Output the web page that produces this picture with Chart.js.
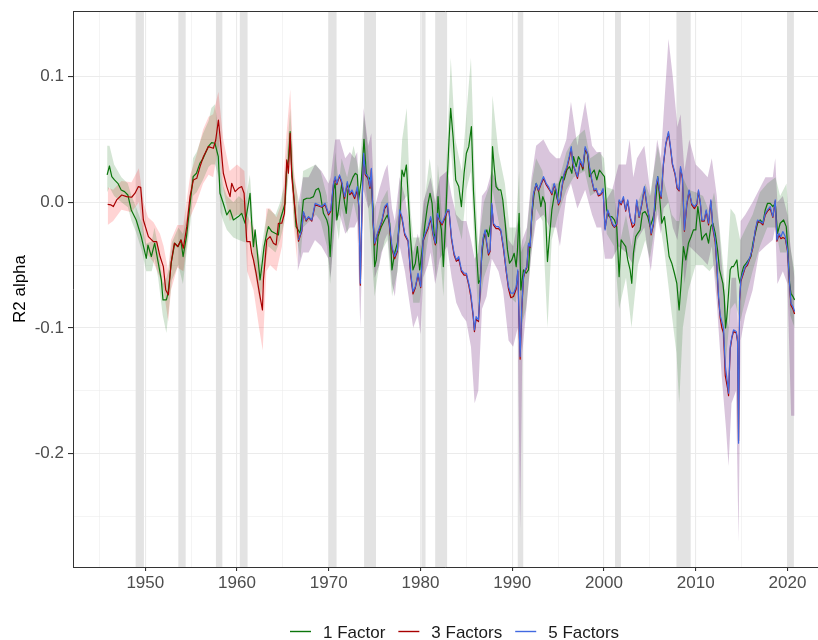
<!DOCTYPE html>
<html>
<head>
<meta charset="utf-8">
<script src="https://cdn.jsdelivr.net/npm/chart.js@4.4.0/dist/chart.umd.min.js"></script>
<style>
  html, body { margin: 0; padding: 0; background: #fff; }
  #wrap { width: 818px; height: 640px; position: relative; }
</style>
</head>
<body>
<div id="wrap"><canvas id="chart" width="818" height="640"></canvas></div>
<script>
// Legend / series names
const seriesNames = ['1 Factor', '3 Factors', '5 Factors'];
const lineColors = ['#0b760b', '#a80000', '#4169e1'];

// Tick positions
const xTicks = [1945, 1950, 1955, 1960, 1965, 1970, 1975, 1980, 1985, 1990, 1995, 2000, 2005, 2010, 2015, 2020];
const yTicks = [-0.25, -0.2, -0.15, -0.1, -0.05, 0, 0.05, 0.1];

// NBER recessions (shaded)
const recStart = [1948.95, 1953.6, 1957.7, 1960.3, 1970.0, 1973.85, 1980.1, 1981.6, 1990.6, 2001.2, 2007.9, 2019.95];
const recEnd   = [1949.85, 1954.4, 1958.4, 1961.15, 1970.85, 1975.15, 1980.55, 1982.9, 1991.2, 2001.85, 2009.45, 2020.7];

// 1 Factor
const f1Yr = [1945.84,1946.09,1946.35,1946.64,1947.01,1947.37,1947.74,1948.10,1948.47,1949.01,1949.56,1950.11,1950.29,1950.66,1951.02,1951.39,1951.75,1951.93,1952.30,1952.48,1952.85,1953.21,1953.58,1953.87,1954.12,1954.49,1954.85,1955.22,1955.58,1955.95,1956.31,1956.86,1957.23,1957.59,1957.96,1958.14,1958.50,1958.88,1959.24,1959.60,1960.15,1960.51,1960.88,1961.24,1961.42,1961.60,1961.79,1961.97,1962.22,1962.51,1962.70,1962.95,1963.24,1963.42,1963.79,1964.15,1964.51,1964.70,1965.24,1965.42,1965.60,1965.79,1965.97,1966.22,1966.44,1966.88,1967.24,1967.60,1967.97,1968.33,1968.59,1968.88,1969.06,1969.42,1969.79,1969.97,1970.15,1970.33,1970.51,1970.70,1970.88,1971.06,1971.42,1971.73,1971.91,1972.09,1972.38,1972.64,1972.89,1973.11,1973.26,1973.55,1973.84,1974.09,1974.35,1974.57,1974.82,1975.00,1975.18,1975.37,1975.73,1976.09,1976.38,1976.64,1976.89,1977.18,1977.48,1977.73,1977.98,1978.20,1978.46,1978.64,1978.93,1979.18,1979.44,1979.66,1979.91,1980.17,1980.46,1980.75,1981.04,1981.26,1981.48,1981.73,1981.91,1982.09,1982.28,1982.49,1982.71,1982.93,1983.11,1983.29,1983.55,1983.84,1984.17,1984.46,1984.75,1985.00,1985.26,1985.55,1985.77,1985.96,1986.14,1986.32,1986.50,1986.68,1986.86,1987.05,1987.23,1987.41,1987.66,1987.85,1988.03,1988.24,1988.50,1988.75,1988.97,1989.23,1989.48,1989.70,1989.95,1990.21,1990.43,1990.57,1990.75,1990.94,1991.23,1991.52,1991.77,1991.95,1992.13,1992.39,1992.61,1992.86,1993.12,1993.33,1993.59,1993.84,1994.06,1994.32,1994.50,1994.68,1994.93,1995.15,1995.41,1995.66,1995.95,1996.24,1996.50,1996.68,1996.97,1997.22,1997.41,1997.70,1997.95,1998.21,1998.42,1998.68,1998.93,1999.22,1999.51,1999.77,2000.05,2000.30,2000.56,2000.85,2001.14,2001.39,2001.65,2001.87,2002.12,2002.37,2002.59,2002.85,2003.03,2003.21,2003.46,2003.68,2003.94,2004.19,2004.48,2004.77,2005.03,2005.28,2005.57,2005.86,2006.12,2006.30,2006.59,2006.85,2007.10,2007.39,2007.68,2007.94,2008.19,2008.41,2008.66,2008.92,2009.21,2009.50,2009.75,2010.01,2010.23,2010.48,2010.67,2010.85,2011.14,2011.40,2011.65,2011.87,2012.13,2012.38,2012.60,2012.78,2012.96,2013.11,2013.25,2013.40,2013.58,2013.76,2013.94,2014.12,2014.31,2014.49,2014.67,2014.85,2015.03,2015.22,2015.51,2015.76,2016.02,2016.23,2016.49,2016.74,2017.03,2017.32,2017.58,2017.83,2018.12,2018.41,2018.67,2018.92,2019.21,2019.58,2019.87,2020.05,2020.23,2020.38,2020.60,2020.78];
const f1Val = [0.0218,0.0289,0.0204,0.0178,0.0151,0.0098,0.0085,0.0058,-0.0061,-0.0141,-0.0273,-0.0446,-0.034,-0.0432,-0.0326,-0.0472,-0.0618,-0.0777,-0.0777,-0.0724,-0.0472,-0.0326,-0.0353,-0.03,-0.0432,-0.0273,-0.0034,0.0204,0.0231,0.031,0.035,0.0443,0.0475,0.047,0.0363,0.0072,-0.0008,-0.01,-0.0061,-0.0141,-0.0114,-0.0088,-0.0167,-0.0008,0.0072,-0.0167,-0.0353,-0.022,-0.0406,-0.0618,-0.0512,-0.0353,-0.0247,-0.0194,-0.0233,-0.0247,-0.026,-0.0141,-0.0008,0.0284,0.0337,0.0562,0.0257,0.0019,-0.0194,-0.0247,0.0019,0.0032,0.0032,0.0045,0.0098,0.0111,0.0072,-0.0088,-0.0141,-0.0194,-0.0432,-0.0194,0.0098,0.0151,-0.0141,-0.0061,0.0151,-0.0008,-0.0088,0.0098,0.015,0.02,0.0231,0.0218,0.0019,0.0178,0.0501,0.0231,0.0178,0.0204,-0.0034,-0.0512,-0.0459,-0.0273,-0.0194,-0.0141,-0.0101,-0.0167,-0.0538,-0.0406,-0.0326,-0.0167,0.0257,0.0204,0.0297,0.0072,-0.03,-0.0538,-0.0485,-0.0353,-0.0538,-0.0379,-0.0194,-0.0034,0.0072,-0.0008,-0.0247,-0.0326,0.0045,-0.0141,-0.022,-0.0512,-0.0194,0.0204,0.0496,0.0748,0.0523,0.0178,0.0125,-0.0034,0.0231,0.039,0.0443,0.0602,0.0098,-0.0167,-0.0432,-0.0645,-0.0618,-0.0432,-0.03,-0.0247,-0.022,-0.0273,-0.0167,0.0443,0.0284,0.0125,0.0098,0.0098,0.0019,-0.0167,-0.0379,-0.0485,-0.0459,-0.0406,-0.0512,-0.0379,-0.0088,-0.0698,-0.0538,-0.0565,-0.0538,-0.0326,-0.0114,0.0072,0.0151,0.0098,-0.0034,0.0045,-0.0008,-0.0472,-0.0273,-0.0061,0.0019,0.0098,0.0019,0.0151,0.0204,0.0178,0.0257,0.0284,0.0231,0.0363,0.0284,0.0363,0.0337,0.0257,0.0416,0.039,0.0204,0.0231,0.0257,0.0178,0.0257,0.0231,0.0204,-0.0061,-0.0114,-0.0114,-0.0141,-0.0194,-0.0592,-0.03,-0.0326,-0.0353,-0.0459,-0.0538,-0.0645,-0.0406,-0.0273,-0.0247,-0.022,-0.0088,-0.0074,-0.0114,-0.0194,-0.0141,-0.0061,0.0204,-0.0008,-0.0167,-0.0114,-0.0273,-0.0432,-0.0485,-0.0565,-0.0645,-0.0857,-0.0645,-0.0353,-0.0459,-0.0326,-0.0273,-0.022,-0.022,-0.0034,-0.0167,-0.03,-0.0273,-0.0247,-0.0326,-0.0194,-0.0167,-0.0247,-0.0379,-0.0538,-0.0592,-0.0645,-0.0751,-0.1,-0.091,-0.0724,-0.0538,-0.0512,-0.0512,-0.0485,-0.0459,-0.0592,-0.0645,-0.0565,-0.0512,-0.0485,-0.0459,-0.0432,-0.0326,-0.0247,-0.0167,-0.0141,-0.0167,-0.0061,-0.0008,-0.0008,-0.0034,-0.0008,-0.0247,-0.0167,-0.0141,-0.0194,-0.0379,-0.0645,-0.0724,-0.0751,-0.0777];

// 3 Factors
const f3Yr = [1945.90,1946.26,1946.52,1946.88,1947.43,1947.97,1948.52,1948.88,1949.25,1949.50,1949.79,1950.34,1950.88,1951.24,1951.61,1951.97,1952.23,1952.52,1952.81,1953.17,1953.53,1953.90,1954.15,1954.52,1954.88,1955.24,1955.61,1955.97,1956.33,1956.88,1957.42,1957.68,1957.97,1958.15,1958.51,1958.88,1959.24,1959.42,1959.79,1960.15,1960.51,1960.77,1961.06,1961.42,1961.60,1961.79,1962.08,1962.44,1962.77,1962.88,1963.24,1963.60,1963.97,1964.26,1964.51,1964.88,1965.17,1965.42,1965.60,1965.79,1965.97,1966.22,1966.44,1966.59,
  1966.70,1967.06,1967.24,1967.53,1967.79,1968.15,1968.51,1968.88,1969.24,1969.60,1969.97,1970.22,1970.51,1970.70,1970.88,1971.17,1971.42,1971.73,1972.02,1972.28,1972.53,1972.82,1973.11,1973.29,1973.44,1973.62,1973.80,1973.98,1974.28,1974.49,1974.64,1974.82,1975.00,1975.29,1975.55,1975.80,1976.09,1976.38,1976.64,1976.89,1977.18,1977.48,1977.73,1977.98,1978.28,1978.64,1978.93,1979.18,1979.44,1979.73,1980.02,1980.28,1980.53,1980.82,1981.11,1981.37,1981.62,1981.84,1982.09,1982.35,1982.64,1982.93,1983.11,1983.37,1983.66,1983.91,1984.17,1984.46,1984.75,1985.00,1985.26,1985.48,1985.73,1985.88,1986.06,1986.32,1986.50,1986.68,1986.86,1987.05,1987.23,1987.41,1987.59,1987.77,1987.95,1988.24,1988.50,1988.75,1989.04,1989.34,1989.59,1989.85,1990.14,1990.43,1990.61,1990.79,1990.86,1991.04,1991.23,1991.41,1991.59,1991.77,1991.95,1992.13,1992.32,1992.61,1992.86,1993.12,1993.41,1993.70,1993.95,1994.13,1994.32,1994.57,1994.79,1995.04,1995.22,1995.41,1995.66,1995.95,1996.21,1996.43,1996.61,1996.86,1997.11,1997.41,1997.70,1997.95,1998.21,1998.42,1998.68,1998.93,1999.15,1999.40,1999.66,1999.90,2000.12,2000.41,2000.67,2000.92,2001.14,2001.39,2001.65,2001.87,2002.12,2002.37,2002.59,2002.85,2003.10,2003.32,2003.57,2003.83,2004.12,2004.41,2004.66,2004.92,2005.14,2005.39,2005.65,2005.86,2006.05,2006.23,2006.48,2006.74,2007.03,2007.25,2007.46,2007.75,2007.97,2008.19,2008.34,2008.55,2008.77,2009.03,2009.28,2009.57,2009.86,2010.12,2010.30,2010.52,2010.67,2010.93,2011.14,2011.40,2011.65,2011.87,2012.13,2012.31,2012.49,2012.67,2012.85,2013.03,2013.22,2013.47,2013.58,2013.76,2013.94,2014.12,2014.42,2014.56,2014.67,2014.78,2014.92,2015.14,2015.40,2015.65,2015.94,2016.23,2016.49,2016.74,2017.03,2017.32,2017.58,2017.83,2018.12,2018.41,2018.67,2018.85,2019.07,2019.29,2019.50,2019.76,2020.01,2020.23,2020.38,2020.60,2020.78];
const f3Val = [-0.0016,-0.0021,-0.0034,0.0019,0.0058,0.0045,0.004,0.0072,0.0125,0.0119,-0.0141,-0.0273,-0.0313,-0.0313,-0.0432,-0.0512,-0.0698,-0.0737,-0.0485,-0.0326,-0.0353,-0.03,-0.0366,-0.0194,0.0045,0.0178,0.0191,0.0284,0.0363,0.0443,0.043,0.0496,0.0655,0.0523,0.0231,0.0125,0.0045,0.0151,0.0085,0.0111,0.0125,0.0072,-0.0313,-0.0313,-0.0406,-0.0459,-0.0565,-0.0724,-0.0857,-0.0618,-0.03,-0.0273,-0.0326,-0.034,-0.0167,-0.0167,-0.0088,0.0337,0.0231,0.0549,0.0204,0.0019,-0.0141,-0.022,
  -0.031,-0.023,-0.008,-0.015,-0.012,-0.015,-0.002,-0.003,-0.004,-0.002,-0.01,-0.007,0.014,0.019,0.014,0.021,0.015,0.003,0.015,0.006,0.008,0.003,0.01,-0.005,-0.066,-0.005,0.038,0.022,0.019,0.011,0.026,-0.015,-0.034,-0.026,-0.021,-0.015,-0.005,-0.002,-0.021,-0.037,-0.045,-0.039,-0.008,-0.013,-0.026,-0.031,-0.058,-0.073,-0.068,-0.058,-0.068,-0.031,-0.026,-0.021,-0.013,-0.026,-0.034,-0.01,-0.015,-0.018,-0.013,-0.007,-0.007,-0.029,-0.042,-0.047,-0.045,-0.055,-0.058,-0.058,-0.066,-0.075,-0.09,-0.103,-0.093,-0.095,-0.071,-0.039,-0.028,-0.023,-0.034,-0.042,-0.039,-0.002,-0.018,-0.021,-0.021,-0.023,-0.037,-0.055,-0.069,-0.076,-0.075,-0.069,-0.055,-0.108,-0.125,-0.085,-0.06,-0.055,-0.052,-0.034,-0.036,-0.01,0.006,0.014,0.009,0.014,0.019,0.014,0.011,0.009,0.006,0.014,0.009,-0.002,0.001,0.011,0.022,0.027,0.035,0.043,0.03,0.025,0.019,0.032,0.027,0.043,0.038,0.027,0.017,0.009,0.01,0.005,0.006,0.01,-0.021,-0.007,-0.012,-0.018,-0.02,-0.018,0.001,-0.002,0.003,-0.007,0.001,-0.012,-0.02,-0.018,0.001,-0.012,-0.002,0.011,-0.002,-0.012,-0.026,-0.018,0.011,0.019,0.009,0.003,0.03,0.046,0.055,0.043,0.03,0.022,0.011,0.009,0.027,0.019,-0.023,-0.002,0.009,-0.002,-0.005,-0.002,0.009,-0.002,-0.015,-0.015,-0.007,-0.018,0.001,-0.021,-0.032,-0.052,-0.077,-0.092,-0.1,-0.104,-0.138,-0.148,-0.154,-0.117,-0.108,-0.103,-0.104,-0.111,-0.19,-0.079,-0.063,-0.058,-0.052,-0.05,-0.044,-0.036,-0.023,-0.015,-0.016,-0.018,-0.01,-0.007,-0.005,-0.012,0.001,-0.031,-0.026,-0.029,-0.028,-0.029,-0.039,-0.066,-0.082,-0.085,-0.089];

// 5 Factors
const f5Yr = [1966.70,1967.06,1967.24,1967.53,1967.79,1968.15,1968.51,1968.88,1969.24,1969.60,1969.97,1970.22,1970.51,1970.70,1970.88,1971.17,1971.42,1971.73,1972.02,1972.28,1972.53,1972.82,1973.11,1973.29,1973.44,1973.62,1973.80,1973.98,1974.28,1974.49,1974.64,1974.82,1975.00,1975.29,1975.55,1975.80,1976.09,1976.38,1976.64,1976.89,1977.18,1977.48,1977.73,1977.98,1978.28,1978.64,1978.93,1979.18,1979.44,1979.73,1980.02,1980.28,1980.53,1980.82,1981.11,1981.37,1981.62,1981.84,1982.09,1982.35,1982.64,1982.93,1983.11,1983.37,1983.66,1983.91,1984.17,1984.46,1984.75,1985.00,1985.26,1985.48,1985.73,1985.88,1986.06,1986.32,1986.50,1986.68,1986.86,1987.05,1987.23,1987.41,1987.59,1987.77,1987.95,1988.24,1988.50,1988.75,1989.04,1989.34,1989.59,1989.85,1990.14,1990.43,1990.61,1990.79,1990.86,1991.04,1991.23,1991.41,1991.59,1991.77,1991.95,1992.13,1992.32,1992.61,1992.86,1993.12,1993.41,1993.70,1993.95,1994.13,1994.32,1994.57,1994.79,1995.04,1995.22,1995.41,1995.66,1995.95,1996.21,1996.43,1996.61,1996.86,1997.11,1997.41,1997.70,1997.95,1998.21,1998.42,1998.68,1998.93,1999.15,1999.40,1999.66,1999.90,2000.12,2000.41,2000.67,2000.92,2001.14,2001.39,2001.65,2001.87,2002.12,2002.37,2002.59,2002.85,2003.10,2003.32,2003.57,2003.83,2004.12,2004.41,2004.66,2004.92,2005.14,2005.39,2005.65,2005.86,2006.05,2006.23,2006.48,2006.74,2007.03,2007.25,2007.46,2007.75,2007.97,2008.19,2008.34,2008.55,2008.77,2009.03,2009.28,2009.57,2009.86,2010.12,2010.30,2010.52,2010.67,2010.93,2011.14,2011.40,2011.65,2011.87,2012.13,2012.31,2012.49,2012.67,2012.85,2013.03,2013.22,2013.47,2013.58,2013.76,2013.94,2014.12,2014.42,2014.56,2014.67,2014.78,2014.92,2015.14,2015.40,2015.65,2015.94,2016.23,2016.49,2016.74,2017.03,2017.32,2017.58,2017.83,2018.12,2018.41,2018.67,2018.85,2019.07,2019.29,2019.50,2019.76,2020.01,2020.23,2020.38,2020.60,2020.78];
const f5Val = [-0.03,-0.022,-0.0074,-0.0141,-0.0114,-0.0141,-0.0008,-0.0021,-0.0034,-0.0008,-0.0088,-0.0061,0.0151,0.0204,0.0151,0.0218,0.0164,0.0045,0.0164,0.0072,0.0098,0.0045,0.0125,-0.0034,-0.0645,-0.0034,0.039,0.0231,0.0204,0.0125,0.0271,-0.0141,-0.0326,-0.0247,-0.0194,-0.0141,-0.0034,-0.0008,-0.0194,-0.0353,-0.0432,-0.0379,-0.0061,-0.0114,-0.0247,-0.03,-0.0565,-0.0711,-0.0671,-0.0565,-0.0671,-0.03,-0.0247,-0.0194,-0.0114,-0.0247,-0.0326,-0.0088,-0.0141,-0.0167,-0.0114,-0.0061,-0.0061,-0.0273,-0.0406,-0.0459,-0.0432,-0.0538,-0.0565,-0.0565,-0.0645,-0.0724,-0.0883,-0.1016,-0.091,-0.0936,-0.0698,-0.0379,-0.0273,-0.022,-0.0326,-0.0406,-0.0379,-0.0008,-0.0167,-0.0194,-0.0194,-0.022,-0.0353,-0.0538,-0.0671,-0.0724,-0.0724,-0.0671,-0.0538,-0.1069,-0.1228,-0.083,-0.0592,-0.0538,-0.0512,-0.0326,-0.0353,-0.0088,0.0072,0.0151,0.0098,0.0151,0.0204,0.0151,0.0125,0.0098,0.0072,0.0151,0.0098,-0.0008,0.0019,0.0125,0.0231,0.0284,0.0363,0.0443,0.031,0.0257,0.0204,0.0337,0.0284,0.0443,0.039,0.0284,0.0178,0.0098,0.011,0.006,0.007,0.011,-0.022,-0.0061,-0.0114,-0.0167,-0.0194,-0.0167,0.0019,-0.0008,0.0045,-0.0061,0.0019,-0.0114,-0.0167,-0.0167,0.0019,-0.0114,-0.0008,0.0125,-0.0008,-0.0114,-0.0247,-0.0167,0.0125,0.0204,0.0098,0.0045,0.031,0.0469,0.0562,0.0443,0.031,0.0231,0.0125,0.0098,0.0284,0.0204,-0.022,-0.0008,0.0098,-0.0008,-0.0034,-0.0008,0.0098,-0.0008,-0.0141,-0.0141,-0.0061,-0.0167,0.0019,-0.0194,-0.03,-0.05,-0.075,-0.09,-0.095,-0.1,-0.13,-0.144,-0.152,-0.1149,-0.1069,-0.1016,-0.1029,-0.1095,-0.1918,-0.0777,-0.0618,-0.0565,-0.0512,-0.0485,-0.0432,-0.0353,-0.022,-0.0141,-0.0154,-0.0167,-0.0088,-0.0061,-0.0034,-0.0114,0.0019,-0.03,-0.0247,-0.0273,-0.0233,-0.0273,-0.0379,-0.0645,-0.0804,-0.083,-0.087];

// Confidence bands
const f1BandYr = [1945.84,1946.1,1946.6,1947.4,1948.1,1948.5,1949.0,1949.6,1950.1,1950.7,1951.0,1951.4,1951.9,1952.3,1952.5,1952.9,1953.6,1954.1,1954.5,1954.9,1955.2,1955.6,1956.3,1956.9,1957.2,1957.6,1958.0,1958.2,1958.5,1958.9,1959.6,1960.2,1960.9,1961.4,1961.8,1962.5,1963.0,1963.4,1964.2,1964.7,1965.2,1965.8,1966.2,1966.9,1967.2,1968.6,1969.1,1969.8,1970.15,1970.7,1971.1,1971.4,1972.0,1972.7,1973.3,1973.84,1974.3,1975.0,1975.7,1976.4,1976.9,1977.5,1978.0,1978.5,1978.9,1979.2,1979.9,1980.5,1981.0,1981.7,1981.9,1982.5,1982.9,1983.3,1983.8,1984.5,1985.0,1985.5,1985.9,1986.3,1986.9,1987.6,1987.85,1988.5,1989.2,1989.7,1990.4,1990.75,1990.95,1991.5,1992.1,1992.6,1993.3,1993.85,1994.3,1995.0,1995.9,1996.7,1997.9,1998.5,1999.5,2000.0,2000.3,2001.1,2001.65,2002.4,2003.0,2003.7,2004.5,2005.0,2005.86,2006.6,2007.4,2007.9,2008.2,2008.6,2009.2,2010.0,2010.8,2011.5,2012.0,2012.6,2013.25,2013.8,2014.3,2014.85,2015.5,2016.2,2017.0,2017.8,2018.7,2019.2,2019.9,2020.3,2020.78];
const f1Lo = [0.008,0.012,0.005,0.0,-0.004,-0.015,-0.024,-0.038,-0.055,-0.055,-0.045,-0.06,-0.09,-0.104,-0.09,-0.062,-0.05,-0.065,-0.04,-0.018,0.005,0.008,0.018,0.028,0.03,0.03,0.02,-0.008,-0.015,-0.022,-0.028,-0.03,-0.032,-0.01,-0.05,-0.08,-0.055,-0.035,-0.04,-0.03,-0.015,0.04,-0.015,-0.045,-0.02,-0.01,-0.015,-0.035,-0.065,-0.01,-0.03,-0.005,-0.025,0.0,-0.02,0.025,-0.005,-0.075,-0.04,-0.03,-0.075,-0.055,0.0,0.005,-0.055,-0.08,-0.08,-0.045,-0.02,-0.06,-0.02,-0.075,-0.005,0.045,-0.01,-0.03,0.01,0.025,-0.04,-0.09,-0.06,-0.045,0.01,-0.015,-0.045,-0.075,-0.08,-0.04,-0.1,-0.085,-0.04,-0.005,-0.015,-0.1,-0.03,-0.01,0.01,0.02,0.025,0.005,0.01,0.005,-0.025,-0.035,-0.085,-0.06,-0.1,-0.05,-0.03,-0.045,-0.005,-0.04,-0.09,-0.12,-0.16,-0.1,-0.07,-0.05,-0.05,-0.055,-0.05,-0.085,-0.13,-0.085,-0.08,-0.095,-0.075,-0.055,-0.035,-0.02,-0.02,-0.04,-0.04,-0.09,-0.1];
const f1Hi = [0.045,0.045,0.03,0.02,0.015,0.005,-0.004,-0.016,-0.033,-0.031,-0.02,-0.035,-0.065,-0.06,-0.055,-0.032,-0.02,-0.025,-0.012,0.01,0.035,0.04,0.055,0.065,0.075,0.078,0.055,0.025,0.013,0.005,0.0,0.005,0.0,0.022,-0.02,-0.045,-0.02,-0.005,-0.01,0.0,0.015,0.075,0.02,-0.005,0.025,0.03,0.025,0.005,-0.02,0.04,0.015,0.035,0.02,0.045,0.025,0.07,0.04,-0.025,0.0,0.01,-0.03,-0.01,0.05,0.075,-0.005,-0.028,-0.028,0.005,0.035,-0.005,0.03,-0.025,0.045,0.115,0.05,0.025,0.07,0.115,0.025,-0.035,0.0,0.015,0.085,0.04,0.015,-0.02,-0.02,0.025,-0.04,-0.03,0.015,0.035,0.025,-0.02,0.015,0.015,0.04,0.05,0.058,0.035,0.04,0.035,0.012,0.01,-0.035,-0.01,-0.035,0.0,0.015,0.005,0.045,0.015,-0.01,-0.015,-0.015,0.02,0.01,0.008,0.005,-0.008,0.008,-0.02,-0.07,-0.005,-0.01,-0.03,-0.02,-0.01,0.008,0.015,0.02,0.005,0.015,-0.035,-0.055];

const f3BandYr = [1945.9,1946.5,1947.4,1948.5,1949.3,1949.8,1950.3,1950.9,1951.6,1952.0,1952.5,1952.8,1953.5,1954.15,1954.9,1955.6,1956.3,1956.9,1957.4,1957.97,1958.5,1959.2,1960.0,1960.8,1961.1,1961.8,1962.4,1962.8,1963.2,1963.6,1964.3,1964.9,1965.4,1965.8,1966.2,1966.6];
const f3Lo = [-0.018,-0.015,-0.006,-0.008,0.0,-0.028,-0.042,-0.048,-0.06,-0.07,-0.095,-0.07,-0.052,-0.055,-0.012,0.0,0.015,0.022,0.02,0.045,0.01,-0.015,-0.01,-0.01,-0.055,-0.07,-0.1,-0.118,-0.055,-0.05,-0.055,-0.035,0.01,0.03,-0.02,-0.05];
const f3Hi = [0.012,0.01,0.017,0.016,0.027,0.0,-0.012,-0.016,-0.025,-0.035,-0.055,-0.03,-0.018,-0.018,0.022,0.038,0.058,0.068,0.07,0.088,0.05,0.025,0.03,0.025,-0.01,-0.02,-0.045,-0.055,-0.005,-0.005,-0.012,0.0,0.055,0.09,0.025,0.005];

const f5BandYr = [1966.6,1967.2,1967.8,1968.5,1969.2,1969.97,1970.2,1970.7,1971.2,1971.8,1972.3,1972.8,1973.1,1973.44,1973.8,1974.3,1974.64,1975.0,1975.5,1976.1,1976.4,1976.9,1977.2,1977.73,1978.3,1978.9,1979.2,1979.7,1980.0,1980.3,1980.8,1981.1,1981.6,1982.1,1982.9,1983.4,1983.9,1984.5,1985.0,1985.5,1985.9,1986.3,1986.7,1987.2,1987.77,1988.5,1989.0,1989.6,1990.1,1990.6,1990.86,1991.1,1991.6,1992.1,1992.6,1993.4,1994.1,1994.8,1995.2,1995.9,1996.4,1997.1,1997.95,1998.7,1999.2,1999.7,2000.1,2000.9,2001.6,2002.4,2002.8,2003.2,2003.6,2004.4,2005.1,2005.8,2006.2,2006.5,2007.03,2007.5,2008.0,2008.35,2008.77,2009.3,2010.0,2010.7,2011.3,2011.75,2012.3,2012.85,2013.3,2013.58,2013.9,2014.4,2014.67,2014.9,2015.4,2016.2,2016.9,2017.6,2018.4,2018.67,2018.9,2019.5,2020.0,2020.4,2020.78];
const f5Lo = [-0.055,-0.04,-0.04,-0.03,-0.035,-0.045,-0.06,-0.015,-0.01,-0.025,-0.02,-0.02,-0.015,-0.1,0.01,-0.005,0.0,-0.06,-0.05,-0.03,-0.025,-0.065,-0.075,-0.035,-0.055,-0.085,-0.1,-0.09,-0.105,-0.06,-0.05,-0.04,-0.065,-0.045,-0.035,-0.06,-0.08,-0.09,-0.095,-0.115,-0.16,-0.15,-0.085,-0.075,-0.045,-0.055,-0.07,-0.11,-0.115,-0.1,-0.26,-0.12,-0.08,-0.04,-0.015,-0.01,-0.02,-0.02,-0.035,0.005,0.015,-0.005,0.01,-0.01,-0.02,-0.02,-0.045,-0.045,-0.035,-0.04,-0.045,-0.05,-0.03,-0.02,-0.055,-0.01,-0.025,-0.005,0.0,-0.02,-0.03,-0.01,-0.065,-0.035,-0.04,-0.045,-0.05,-0.035,-0.08,-0.14,-0.18,-0.21,-0.16,-0.15,-0.27,-0.11,-0.09,-0.07,-0.04,-0.035,-0.03,-0.02,-0.065,-0.055,-0.065,-0.17,-0.17];
const f5Hi = [-0.005,0.02,0.02,0.03,0.025,0.015,0.02,0.05,0.05,0.035,0.04,0.035,0.04,-0.025,0.075,0.045,0.055,-0.005,0.01,0.025,0.03,-0.005,-0.015,0.02,0.005,-0.025,-0.04,-0.025,-0.035,0.0,0.012,0.02,0.0,0.02,0.025,0.005,-0.01,-0.015,-0.015,-0.03,-0.045,-0.04,0.005,0.01,0.025,0.012,0.0,-0.03,-0.035,-0.015,-0.04,-0.03,-0.02,0.02,0.045,0.05,0.04,0.035,0.035,0.05,0.08,0.045,0.08,0.045,0.04,0.04,0.0,0.01,0.03,0.03,0.05,0.02,0.035,0.045,0.005,0.05,0.035,0.07,0.13,0.1,0.06,0.07,0.025,0.05,0.03,0.025,0.02,0.035,0.005,-0.05,-0.085,-0.1,-0.06,-0.06,-0.11,-0.015,-0.01,0.0,0.01,0.02,0.02,0.035,0.0,0.005,-0.01,-0.04,-0.06];

const FONT = '"Liberation Sans", Arial, sans-serif';
const toPts = (xs, ys) => xs.map((x, i) => ({ x: x, y: ys[i] }));

function bandSets(xs, lo, hi, color) {
  return [
    { data: toPts(xs, lo), borderWidth: 0, pointRadius: 0, fill: false, order: 10 },
    { data: toPts(xs, hi), borderWidth: 0, pointRadius: 0, fill: '-1', backgroundColor: color, order: 10 }
  ];
}

function lineSet(xs, ys, color, order) {
  return { data: toPts(xs, ys), borderColor: color, borderWidth: 1.2, pointRadius: 0, fill: false, order: order };
}

// gray recession bars behind the data
const recessionPlugin = {
  id: 'recessions',
  beforeDatasetsDraw(chart) {
    const { ctx, chartArea, scales } = chart;
    ctx.save();
    ctx.fillStyle = '#e3e3e3';
    recStart.forEach((s, i) => {
      const x0 = scales.x.getPixelForValue(s);
      const x1 = scales.x.getPixelForValue(recEnd[i]);
      ctx.fillRect(x0, chartArea.top, x1 - x0, chartArea.bottom - chartArea.top);
    });
    ctx.restore();
  }
};

// top border + legend under the axis
const frameLegendPlugin = {
  id: 'frameLegend',
  afterDraw(chart) {
    const { ctx, chartArea } = chart;
    ctx.save();
    ctx.strokeStyle = '#333333';
    ctx.lineWidth = 1;
    ctx.beginPath();
    ctx.moveTo(chartArea.left, chartArea.top + 0.5);
    ctx.lineTo(chartArea.right, chartArea.top + 0.5);
    ctx.stroke();

    ctx.font = '17px ' + FONT;
    ctx.textBaseline = 'alphabetic';
    let x = 290;
    seriesNames.forEach((name, i) => {
      ctx.strokeStyle = lineColors[i];
      ctx.lineWidth = 1.4;
      ctx.beginPath();
      ctx.moveTo(x, 631.5);
      ctx.lineTo(x + 21, 631.5);
      ctx.stroke();
      ctx.fillStyle = '#1a1a1a';
      ctx.fillText(name, x + 33, 638);
      x += 33 + ctx.measureText(name).width + 13;
    });
    ctx.restore();
  }
};

new Chart(document.getElementById('chart'), {
  type: 'line',
  data: {
    datasets: [
      lineSet(f5Yr, f5Val, lineColors[2], 1),
      lineSet(f3Yr, f3Val, lineColors[1], 2),
      lineSet(f1Yr, f1Val, lineColors[0], 3),
      ...bandSets(f1BandYr, f1Lo, f1Hi, 'rgba(0,100,0,0.17)'),
      ...bandSets(f3BandYr, f3Lo, f3Hi, 'rgba(255,0,0,0.17)'),
      ...bandSets(f5BandYr, f5Lo, f5Hi, 'rgba(110,30,120,0.26)')
    ]
  },
  options: {
    responsive: false,
    animation: false,
    layout: { padding: { top: 11, right: 0, bottom: 0, left: 0 } },
    plugins: { legend: { display: false }, tooltip: { enabled: false } },
    elements: { line: { tension: 0, borderJoinStyle: 'round' } },
    scales: {
      x: {
        type: 'linear',
        min: 1942.12,
        max: 2023.33,
        afterBuildTicks: s => { s.ticks = xTicks.map(v => ({ value: v })); },
        afterFit: s => { s.height = 73; s.paddingLeft = 0; s.paddingRight = 0; },
        ticks: {
          color: '#4d4d4d',
          font: { family: FONT, size: 17 },
          padding: 2,
          maxRotation: 0,
          autoSkip: false,
          callback: v => (v % 10 === 0 ? String(v) : '')
        },
        grid: {
          color: '#ebebeb',
          lineWidth: c => (c.tick && c.tick.value % 10 === 0 ? 1.1 : 0.55),
          tickLength: 4,
          tickColor: c => (c.tick && c.tick.value % 10 === 0 ? '#333333' : 'rgba(0,0,0,0)')
        },
        border: { display: true, color: '#333333', width: 1 }
      },
      y: {
        type: 'linear',
        min: -0.2904,
        max: 0.1523,
        afterBuildTicks: s => { s.ticks = yTicks.map(v => ({ value: v })); },
        afterFit: s => { s.width = 73; s.paddingTop = 0; s.paddingBottom = 0; },
        title: {
          display: true,
          text: 'R2 alpha',
          color: '#000000',
          font: { family: FONT, size: 17 },
          padding: { top: 10, bottom: 0 }
        },
        ticks: {
          color: '#4d4d4d',
          font: { family: FONT, size: 17 },
          padding: 4,
          autoSkip: false,
          callback: v => (Math.round(v * 100) % 10 === 0 ? v.toFixed(1) : '')
        },
        grid: {
          color: '#ebebeb',
          lineWidth: c => (c.tick && Math.round(c.tick.value * 100) % 10 === 0 ? 1.1 : 0.55),
          tickLength: 5,
          tickColor: c => (c.tick && Math.round(c.tick.value * 100) % 10 === 0 ? '#333333' : 'rgba(0,0,0,0)')
        },
        border: { display: true, color: '#333333', width: 1 }
      }
    }
  },
  plugins: [recessionPlugin, frameLegendPlugin]
});
</script>
</body>
</html>
